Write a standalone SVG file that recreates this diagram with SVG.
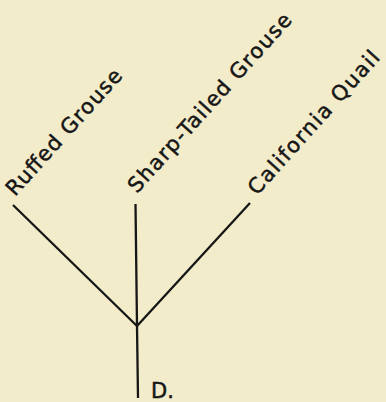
<svg xmlns="http://www.w3.org/2000/svg" width="386" height="402" viewBox="0 0 386 402">
<style>
.bg{fill:#f3ecca}
.edge{stroke:#161616;stroke-width:2.3;fill:none;stroke-linecap:butt}
.lbl{font-family:"DejaVu Sans","Liberation Sans",sans-serif;font-size:21px;fill:#161616;stroke:#161616;stroke-width:0.5}
</style>
<rect class="bg" x="0" y="0" width="386" height="402"/>
<g id="connectors">
<line class="edge" x1="13" y1="205" x2="137" y2="326"/>
<line class="edge" x1="135.5" y1="204" x2="137" y2="326"/>
<line class="edge" x1="250" y1="203" x2="137" y2="326"/>
<line class="edge" x1="137" y1="326" x2="138" y2="398"/>
</g>
<g id="node-ruffed-grouse">
<text class="lbl" transform="translate(15,197) rotate(-48)" textLength="162" lengthAdjust="spacing">Ruffed Grouse</text>
</g>
<g id="node-sharp-tailed-grouse">
<text class="lbl" transform="translate(137,194) rotate(-48)" textLength="233" lengthAdjust="spacing">Sharp-Tailed Grouse</text>
</g>
<g id="node-california-quail">
<text class="lbl" transform="translate(257,196) rotate(-48)" textLength="185" lengthAdjust="spacing">California Quail</text>
</g>
<g id="node-d">
<text class="lbl" x="151" y="398">D.</text>
</g>
</svg>
